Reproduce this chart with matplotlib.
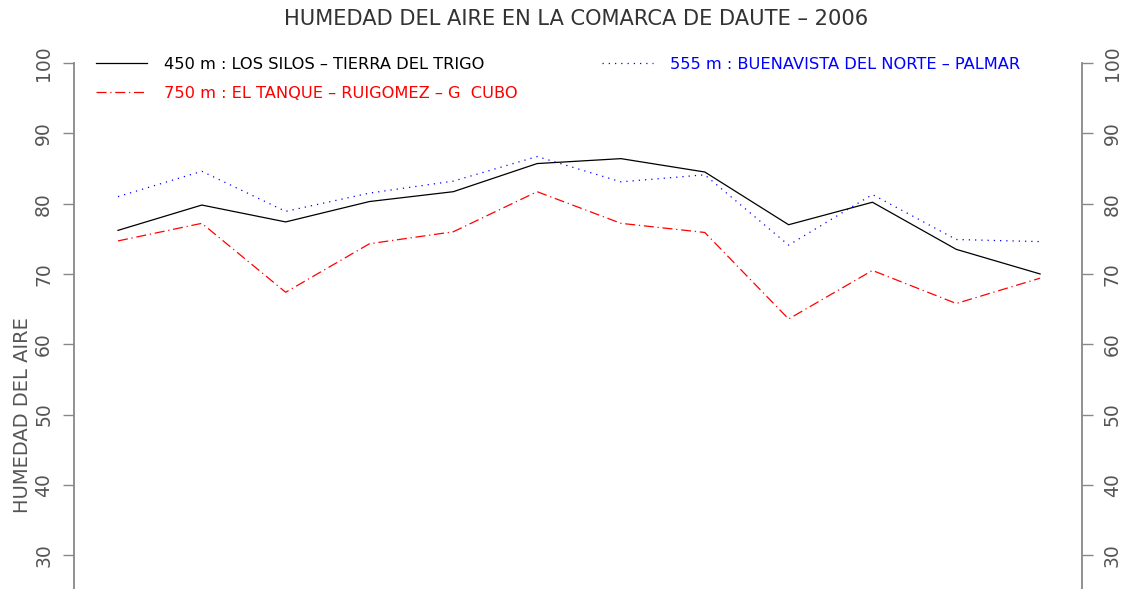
import matplotlib
matplotlib.use("Agg")
import matplotlib.pyplot as plt

plt.rcParams["font.family"] = ["DejaVu Sans"]

months = list(range(12))
silos = [76.2, 79.8, 77.4, 80.3, 81.7, 85.7, 86.4, 84.5, 77.0, 80.2, 73.5, 70.0]
buenavista = [81.0, 84.6, 78.9, 81.5, 83.2, 86.7, 83.1, 84.1, 74.1, 81.3, 74.9, 74.6]
tanque = [74.7, 77.2, 67.4, 74.3, 76.0, 81.7, 77.2, 75.9, 63.6, 70.5, 65.8, 69.4]

label_silos = "450 m : LOS SILOS \u2013 TIERRA DEL TRIGO"
label_buena = "555 m : BUENAVISTA DEL NORTE \u2013 PALMAR"
label_tanque = "750 m : EL TANQUE \u2013 RUIGOMEZ \u2013 G  CUBO"
yticks = [30, 40, 50, 60, 70, 80, 90, 100]

fig = plt.figure(figsize=(11.23, 5.89), dpi=100)
ax = fig.add_axes([74 / 1123, 0.0, 1008 / 1123, 1 - 63 / 589])

ax.plot(months, silos, color="black", lw=0.9, label=label_silos)
ax.plot(months, tanque, color="red", lw=0.9, linestyle=(0, (8, 3, 1, 3)), label=label_tanque)
ax.plot(months, buenavista, color="blue", lw=0.9, linestyle=(0, (1, 4)), label=label_buena)

ax.set_xlim(-0.525, 11.5)
ax.set_ylim(25.2, 100)
ax.set_yticks(yticks)
ax.tick_params(axis="y", labelrotation=90, labelsize=13.5, length=8, width=1,
               color="#888888", labelcolor="#555555", pad=7,
               right=True, labelright=True)
for lab in ax.get_yticklabels():
    lab.set_va("center")
ax.xaxis.set_visible(False)
ax.spines["top"].set_visible(False)
ax.spines["bottom"].set_visible(False)
for side in ["left", "right"]:
    ax.spines[side].set_color("#888888")
    ax.spines[side].set_linewidth(1.3)

ax.set_ylabel("HUMEDAD DEL AIRE", fontsize=14, color="#555555")
ax.yaxis.set_label_coords(-0.042, 0.33)

fig.suptitle("HUMEDAD DEL AIRE EN LA COMARCA DE DAUTE \u2013 2006", fontsize=15.1,
             color="#333333", x=576 / 1123, y=1 - 19 / 589, va="center")

ax.legend(ncol=2, frameon=False, loc="upper left", bbox_to_anchor=(0.0139, 1.027),
          borderpad=0, fontsize=11.7, handlelength=3.14, handletextpad=1.05,
          columnspacing=5.2, labelspacing=0.86, labelcolor="linecolor")

fig.savefig("out.png", dpi=100)
